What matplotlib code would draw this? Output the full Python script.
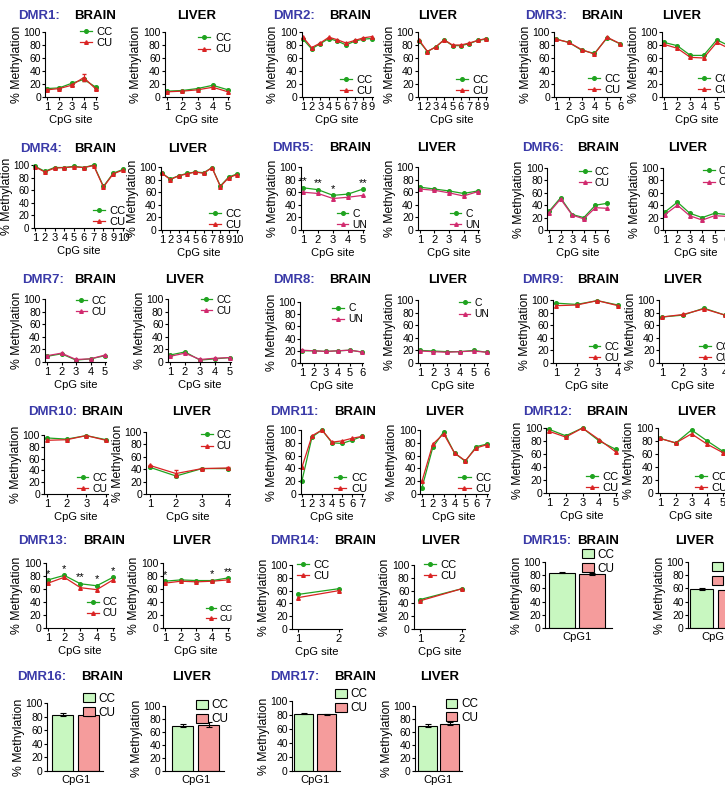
import matplotlib

matplotlib.use('Agg')
import matplotlib.pyplot as plt
from matplotlib.patches import Patch

plt.rcParams.update({
    'font.family': ['Liberation Sans', 'DejaVu Sans'],
    'font.size': 8,
    'axes.linewidth': 0.8,
})

W, H = 725, 785

GREEN = '#1fa31f'
RED = '#d92323'
PINK = '#d12a6e'
BLUE = '#3a3aa8'
BAR_GREEN = '#c8f7c0'
BAR_RED = '#f59c9c'

CC_CU = ('CC', 'CU')
C_UN = ('C', 'UN')

# % methylation per CpG site: [control, treated]
dmr1_brain = [[13, 14, 21, 27, 15], [11, 13, 18, 30, 12]]
dmr1_brain_err = [[1, 1, 1.5, 2, 1], [1, 1, 1.5, 6, 1]]
dmr1_liver = [[9, 10, 13, 18, 11], [8, 9, 11, 15, 8]]
dmr2_brain = [[89, 74, 82, 90, 86, 80, 86, 89, 90], [92, 76, 83, 92, 88, 83, 87, 91, 93]]
dmr2_liver = [[86, 70, 77, 88, 79, 79, 82, 87, 89], [88, 70, 77, 88, 80, 80, 83, 87, 90]]
dmr3_brain = [[89, 84, 72, 67, 91, 82], [89, 84, 73, 66, 92, 82]]
dmr3_liver = [[84, 79, 64, 64, 88, 78], [81, 75, 61, 60, 84, 74]]
dmr4_brain = [[98, 90, 96, 96, 98, 96, 100, 66, 87, 93], [97, 89, 95, 96, 97, 96, 99, 65, 86, 92]]
dmr4_liver = [[90, 81, 86, 90, 92, 91, 99, 70, 84, 89], [90, 80, 86, 89, 92, 90, 99, 69, 83, 88]]
dmr5_brain = [[67, 64, 55, 57, 65], [60, 58, 50, 52, 55]]
dmr5_brain_stars = ['**', '**', '*', '', '**']
dmr5_liver = [[68, 65, 62, 58, 62], [65, 63, 59, 54, 61]]
dmr6_brain = [[30, 52, 25, 20, 40, 43], [28, 50, 24, 18, 36, 35]]
dmr6_liver = [[29, 45, 27, 20, 27, 25], [25, 40, 23, 16, 23, 22]]
dmr7_brain = [[9, 13, 3, 5, 10], [10, 14, 4, 5, 11]]
dmr7_liver = [[11, 16, 3, 5, 7], [9, 14, 4, 6, 7]]
dmr8_brain = [[20, 20, 19, 20, 21, 18], [21, 20, 19, 20, 21, 18]]
dmr8_liver = [[20, 19, 18, 18, 20, 17], [19, 18, 17, 18, 19, 17]]
dmr9_brain = [[95, 93, 99, 92], [91, 92, 99, 91]]
dmr9_liver = [[73, 76, 87, 76], [73, 77, 86, 76]]
dmr10_brain = [[95, 93, 99, 92], [91, 92, 99, 91]]
dmr10_liver = [[43, 29, 41, 41], [46, 33, 41, 42]]
dmr10_liver_err = [[1.5, 1.5, 1, 1], [1.5, 5, 1, 1]]
dmr11_brain = [[21, 89, 100, 80, 79, 84, 90], [42, 91, 100, 81, 83, 87, 90]]
dmr11_liver = [[10, 73, 97, 64, 51, 74, 78], [20, 78, 94, 64, 52, 72, 77]]
dmr12_brain = [[98, 88, 100, 80, 67], [95, 86, 100, 82, 63]]
dmr12_liver = [[84, 77, 97, 80, 64], [84, 77, 91, 75, 62]]
dmr13_brain = [[74, 81, 68, 65, 78], [69, 78, 62, 59, 74]]
dmr13_brain_stars = ['*', '*', '**', '*', '*']
dmr13_liver = [[72, 74, 73, 73, 77], [69, 72, 71, 72, 74]]
dmr13_liver_stars = ['*', '', '', '*', '**']
dmr14_brain = [[54, 63], [49, 60]]
dmr14_liver = [[46, 63], [44, 63]]

# single-site regions: [CC, CU] mean and error
dmr15_brain = [84, 82]
dmr15_brain_err = [1, 1]
dmr15_liver = [59, 57]
dmr15_liver_err = [1.5, 2]
dmr16_brain = [83, 82]
dmr16_brain_err = [2, 1.5]
dmr16_liver = [70, 71]
dmr16_liver_err = [2.5, 4]
dmr17_brain = [82, 81]
dmr17_brain_err = [1, 1]
dmr17_liver = [70, 73]
dmr17_liver_err = [2, 2]

fig = plt.figure(figsize=(W / 100, H / 100), dpi=100)


def px_axes(left, right, y0, y100):
    return fig.add_axes([left / W, 1 - y0 / H, (right - left) / W, (y0 - y100) / H])


def finish(ax, ypad=0.5, ysize=7.5):
    for s in ('top', 'right'):
        ax.spines[s].set_visible(False)
    ax.set_ylim(0, 100)
    ax.set_yticks(range(0, 101, 20))
    ax.tick_params(length=2.5, width=0.8, pad=1, labelsize=8)
    ax.tick_params(axis='y', labelsize=ysize, pad=0.5)
    ax.set_ylabel('% Methylation', fontsize=8.8, labelpad=ypad)


def line_panel(series, t1, tn, y0, y100, labels=CC_CU, c2=RED, loc='lower right',
               anchor=(1.0, 0.0), err=None, stars=None, lfs=8, ypad=0.5, ysize=7.5):
    n = len(series[0])
    unit = (tn - t1) / (n - 1)
    ax = px_axes(t1 - 0.15 * unit, tn + 0.08 * unit, y0, y100)
    x = list(range(1, n + 1))
    for k, (vals, col, mk, lab) in enumerate(zip(series, (GREEN, c2), ('o', '^'), labels)):
        if err is not None:
            ax.errorbar(x, vals, yerr=err[k], fmt='none', ecolor=col,
                        elinewidth=0.7, capsize=1.5, clip_on=False)
        ax.plot(x, vals, color=col, marker=mk, ms=2.6, lw=0.9, label=lab, clip_on=False)
    ax.set_xlim(1 - 0.15, n + 0.08)
    ax.set_xticks(x)
    finish(ax, ypad, ysize)
    ax.set_xlabel('CpG site', fontsize=8, labelpad=2)
    if stars:
        for i, s in enumerate(stars):
            if s:
                top = max(series[0][i], series[1][i])
                ax.text(i + 1, top + 2, s, ha='center', va='bottom', fontsize=8)
    ax.legend(loc=loc, bbox_to_anchor=anchor, frameon=False, fontsize=lfs,
              handlelength=1.1, handletextpad=0.4, labelspacing=0.1, borderpad=0,
              borderaxespad=0)
    return ax


def bar_panel(vals, errs, left, b1, b2, bw, right, y0, y100, anchor):
    c1 = b1 + bw / 2
    s = (b2 + bw / 2) - c1
    ax = px_axes(left, right, y0, y100)
    ax.bar([0, 1], vals, width=bw / s, yerr=errs, color=[BAR_GREEN, BAR_RED],
           edgecolor='black', linewidth=0.8, capsize=2,
           error_kw={'elinewidth': 0.8, 'capthick': 0.8})
    ax.set_xlim((left - c1) / s, (right - c1) / s)
    ax.set_xticks([0.5])
    ax.set_xticklabels(['CpG1'])
    finish(ax)
    ax.tick_params(axis='x', length=0, pad=3)
    handles = [Patch(facecolor=BAR_GREEN, edgecolor='black', lw=0.8, label='CC'),
               Patch(facecolor=BAR_RED, edgecolor='black', lw=0.8, label='CU')]
    ax.legend(handles=handles, loc='upper right', bbox_to_anchor=anchor, frameon=False,
              fontsize=8.5, handlelength=1.0, handleheight=0.8, handletextpad=0.3,
              labelspacing=0.15, borderpad=0, borderaxespad=0)
    return ax


def titles(name, lx, bx, livx, ty):
    fig.text(lx / W, 1 - ty / H, name + ':', color=BLUE, fontsize=9.5,
             fontweight='bold', ha='left', va='center')
    fig.text(bx / W, 1 - ty / H, 'BRAIN', fontsize=9.5, fontweight='bold',
             ha='center', va='center')
    fig.text(livx / W, 1 - ty / H, 'LIVER', fontsize=9.5, fontweight='bold',
             ha='center', va='center')


# row 1
titles('DMR1', 18, 95, 197, 16)
line_panel(dmr1_brain, 47, 96, 97, 32, loc='upper right', anchor=(1.3, 1.08), err=dmr1_brain_err)
line_panel(dmr1_liver, 167, 228, 97, 32, loc='upper right', anchor=(1.03, 0.98))
titles('DMR2', 273, 350, 438, 16)
line_panel(dmr2_brain, 303, 372, 97, 32, anchor=(1.0, 0.02))
line_panel(dmr2_liver, 419, 486, 97, 32, anchor=(1.03, 0.02))
titles('DMR3', 525, 602, 682, 16)
line_panel(dmr3_brain, 556, 620, 97, 32, anchor=(1.0, 0.03))
line_panel(dmr3_liver, 664, 730, 97, 32, anchor=(1.0, 0.03))

# row 2
titles('DMR4', 20, 95, 188, 149)
line_panel(dmr4_brain, 35, 123, 228, 165, anchor=(1.02, 0.02), ypad=0, ysize=7)
line_panel(dmr4_liver, 162, 237, 230, 167, anchor=(1.05, 0.0))
titles('DMR5', 272, 350, 437, 148)
line_panel(dmr5_brain, 303, 363, 230, 167, labels=C_UN, c2=PINK, anchor=(1.05, 0.0),
           stars=dmr5_brain_stars, lfs=7.5)
line_panel(dmr5_liver, 420, 478, 230, 167, labels=C_UN, c2=PINK, anchor=(1.02, 0.0), lfs=7.5)
titles('DMR6', 522, 598, 688, 148)
line_panel(dmr6_brain, 549, 607, 230, 168, c2=PINK, loc='upper right', anchor=(1.03, 1.02), lfs=7.5)
line_panel(dmr6_liver, 665, 727, 230, 168, c2=PINK, loc='upper right', anchor=(1.09, 1.03), lfs=7.5)

# row 3
titles('DMR7', 22, 95, 185, 280)
line_panel(dmr7_brain, 47, 105, 362, 299, c2=PINK, loc='upper right', anchor=(1.0, 1.05), lfs=7.5)
line_panel(dmr7_liver, 170, 230, 362, 299, c2=PINK, loc='upper right', anchor=(1.0, 1.07), lfs=7.5)
titles('DMR8', 273, 350, 448, 280)
line_panel(dmr8_brain, 302, 362, 363, 302, labels=C_UN, c2=PINK, loc='upper right',
           anchor=(1.0, 0.98), lfs=7.5)
line_panel(dmr8_liver, 420, 487, 363, 300, labels=C_UN, c2=PINK, loc='upper right',
           anchor=(1.02, 1.03), lfs=7.5)
titles('DMR9', 522, 598, 683, 280)
line_panel(dmr9_brain, 556, 618, 363, 300, anchor=(1.0, 0.0), lfs=7.5)
line_panel(dmr9_liver, 662, 725, 363, 300, anchor=(1.05, 0.0), lfs=7.5)

# row 4
titles('DMR10', 28, 102, 192, 412)
line_panel(dmr10_brain, 47, 106, 494, 435, anchor=(1.0, 0.0), lfs=7.5)
line_panel(dmr10_liver, 150, 228, 494, 432, loc='upper right', anchor=(1.02, 1.03),
           err=dmr10_liver_err, lfs=7.5)
titles('DMR11', 270, 355, 445, 412)
line_panel(dmr11_brain, 302, 362, 494, 430, anchor=(1.07, 0.0))
line_panel(dmr11_liver, 422, 487, 494, 430, anchor=(1.05, 0.0))
titles('DMR12', 523, 607, 697, 412)
line_panel(dmr12_brain, 549, 616, 493, 428, anchor=(1.02, 0.0))
line_panel(dmr12_liver, 660, 723, 493, 428, anchor=(1.05, 0.0))

# row 5
titles('DMR13', 18, 104, 192, 541)
line_panel(dmr13_brain, 48, 113, 628, 563, anchor=(1.05, 0.15), stars=dmr13_brain_stars, lfs=7.5)
line_panel(dmr13_liver, 165, 228, 628, 563, anchor=(1.05, 0.08), stars=dmr13_liver_stars, lfs=6.5)
titles('DMR14', 270, 355, 441, 541)
line_panel(dmr14_brain, 298, 339, 629, 565, loc='upper left', anchor=(0.1, 1.08))
line_panel(dmr14_liver, 420, 462, 629, 565, loc='upper left', anchor=(0.2, 1.08))
titles('DMR15', 522, 598, 695, 541)
bar_panel(dmr15_brain, dmr15_brain_err, 545, 549, 579, 26, 612, 628, 562, anchor=(1.04, 1.2))
bar_panel(dmr15_liver, dmr15_liver_err, 688, 690, 718, 23, 745, 628, 562, anchor=(0.98, 1.0))

# row 6
titles('DMR16', 17, 102, 192, 677)
bar_panel(dmr16_brain, dmr16_brain_err, 47, 52, 78, 21, 103, 771, 703, anchor=(1.22, 1.15))
bar_panel(dmr16_liver, dmr16_liver_err, 165, 172, 198, 21, 224, 771, 706, anchor=(1.07, 1.1))
titles('DMR17', 270, 355, 440, 677)
bar_panel(dmr17_brain, dmr17_brain_err, 292, 294, 317, 19, 340, 771, 701, anchor=(1.58, 1.18))
bar_panel(dmr17_liver, dmr17_liver_err, 415, 418, 440, 19, 462, 771, 706, anchor=(1.34, 1.12))

fig.savefig('out.png', dpi=100)
